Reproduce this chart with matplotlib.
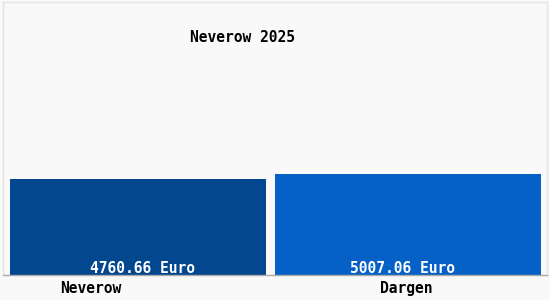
import matplotlib
matplotlib.use("Agg")
import matplotlib.pyplot as plt

categories = ["Neverow", "Dargen"]
values = [4760.66, 5007.06]
value_labels = ["4760.66 Euro", "5007.06 Euro"]
title = "Neverow 2025"
colors = ["#03478f", "#0561c5"]

W, H = 550, 300
fig = plt.figure(figsize=(W / 100, H / 100), dpi=100, facecolor="#f9f9f9")
ax = fig.add_axes([3 / W, 25 / H, 544 / W, 273 / H])
ax.set_facecolor("#f9f9f9")

px = 270.0  # pixels per x unit
ax.set_xlim((3 - 138) / px, (547 - 138) / px)
ymax = values[1] / 101.0 * 273
ax.set_ylim(0, ymax)

xs = [0, 1]
widths = [256 / px, 266 / px]
for i, (x, v) in enumerate(zip(xs, values)):
    ax.bar(x, v, width=widths[i], color=colors[i], zorder=2)

font = dict(family="DejaVu Sans Mono", fontsize=10.5, fontweight="bold")
label_x = [143, 403]
for i, lab in enumerate(value_labels):
    ax.text((label_x[i] - 138) / px, -ymax * 0.005, lab, color="white", ha="center",
            va="bottom", **font, zorder=3)

cat_x = [91, 406]
for i, c in enumerate(categories):
    ax.text((cat_x[i] - 138) / px, -0.05, c, color="black", ha="center",
            va="center", transform=ax.get_xaxis_transform(), **font)

ax.text((243 - 3) / 544, (275 - 38) / 273, title, transform=ax.transAxes,
        ha="center", va="center", color="black", **font)

ax.set_xticks([])
ax.set_yticks([])
for s in ["top", "left", "right"]:
    ax.spines[s].set_color("#e4e4e4")
ax.spines["bottom"].set_color("#aaaaaa")
for s in ax.spines.values():
    s.set_linewidth(1)

fig.savefig("out.png", dpi=100, facecolor=fig.get_facecolor())
